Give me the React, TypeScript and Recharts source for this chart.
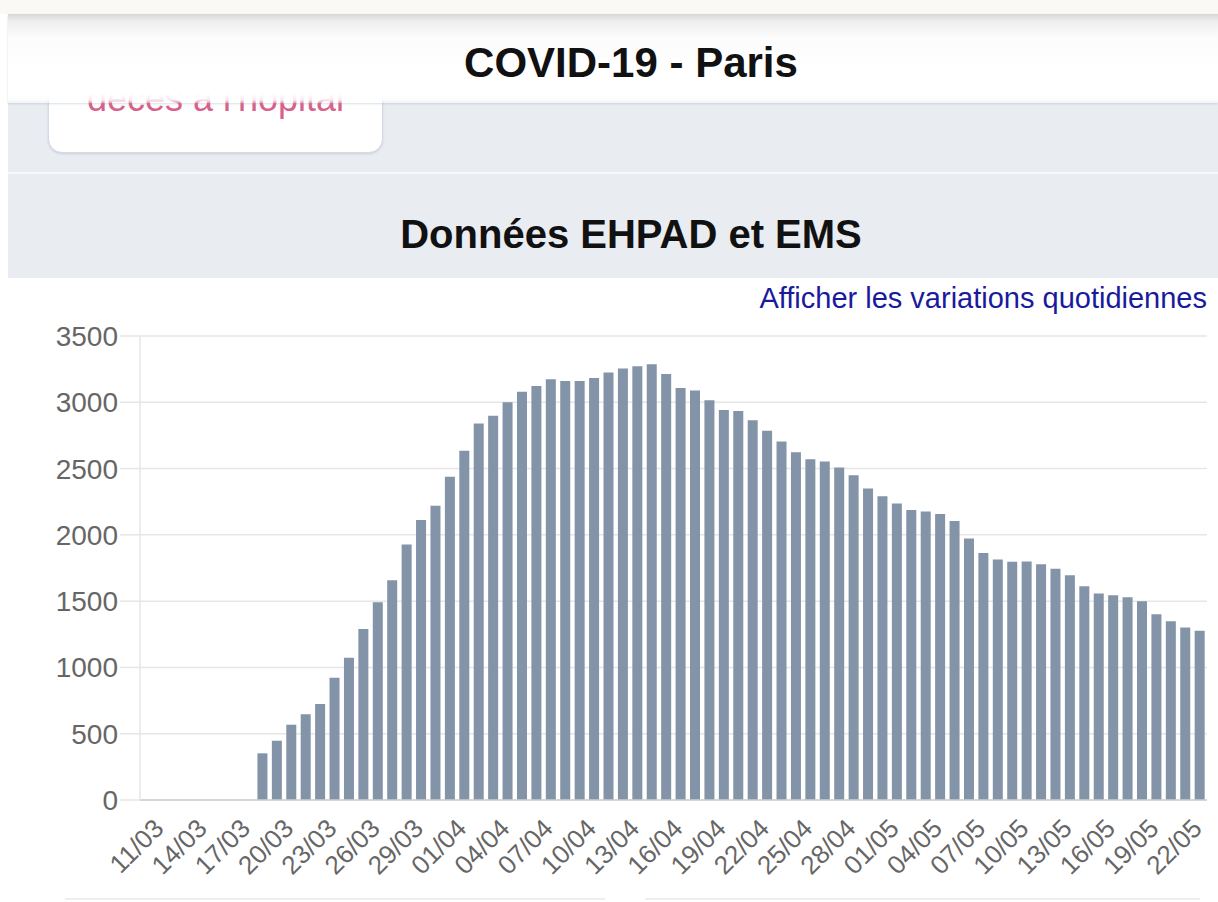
import { BarChart, Bar, XAxis, YAxis, CartesianGrid } from 'recharts'

const DATES = [
  '11/03', '12/03', '13/03', '14/03', '15/03', '16/03', '17/03', '18/03', '19/03', '20/03',
  '21/03', '22/03', '23/03', '24/03', '25/03', '26/03', '27/03', '28/03', '29/03', '30/03',
  '31/03', '01/04', '02/04', '03/04', '04/04', '05/04', '06/04', '07/04', '08/04', '09/04',
  '10/04', '11/04', '12/04', '13/04', '14/04', '15/04', '16/04', '17/04', '18/04', '19/04',
  '20/04', '21/04', '22/04', '23/04', '24/04', '25/04', '26/04', '27/04', '28/04', '29/04',
  '30/04', '01/05', '02/05', '03/05', '04/05', '05/05', '06/05', '07/05', '08/05', '09/05',
  '10/05', '11/05', '12/05', '13/05', '14/05', '15/05', '16/05', '17/05', '18/05', '19/05',
  '20/05', '21/05', '22/05', '23/05',
]

// cumulative EHPAD / EMS deaths
const DECES = [
  0, 0, 0, 0, 0, 0, 0, 0, 352, 447,
  568, 646, 724, 922, 1073, 1290, 1491, 1657, 1928, 2113,
  2219, 2438, 2634, 2840, 2898, 3001, 3079, 3122, 3174, 3160,
  3160, 3183, 3224, 3254, 3271, 3287, 3214, 3108, 3088, 3015,
  2942, 2935, 2864, 2786, 2705, 2623, 2570, 2553, 2508, 2450,
  2350, 2292, 2237, 2188, 2176, 2158, 2105, 1973, 1864, 1814,
  1798, 1799, 1779, 1744, 1696, 1613, 1558, 1545, 1530, 1500,
  1402, 1349, 1302, 1276,
]

const Y_TICKS = [0, 500, 1000, 1500, 2000, 2500, 3000, 3500]

const data = DATES.map((date, i) => ({ date, value: DECES[i] }))

const FONT = '"Liberation Sans", Arial, Helvetica, sans-serif'
const BAR_COLOR = '#8393a8'
const GRID = '#e6e6e6'
const PANEL = '#e9ecf1'

function DateTick(props: any) {
  const { x, y, payload } = props
  return (
    <g transform={`translate(${x + 18},${y + 22})`}>
      <text
        x={0}
        y={0}
        textAnchor="end"
        fill="#666"
        fontSize={26}
        fontFamily={FONT}
        transform="rotate(-45)"
      >
        {payload.value}
      </text>
    </g>
  )
}

export default function App() {
  return (
    <div
      style={{
        position: 'absolute',
        left: 0,
        top: 0,
        width: 1218,
        height: 902,
        overflow: 'hidden',
        background: '#fff',
        fontFamily: FONT,
      }}
    >
      {/* top strip */}
      <div style={{ position: 'absolute', left: 0, top: 0, width: 1218, height: 14, background: '#faf9f6' }} />

      {/* grey panels */}
      <div style={{ position: 'absolute', left: 8, top: 60, width: 1210, height: 112, background: PANEL }} />
      <div style={{ position: 'absolute', left: 8, top: 172, width: 1210, height: 2, background: '#f7f8fa' }} />
      <div style={{ position: 'absolute', left: 8, top: 174, width: 1210, height: 104, background: PANEL }} />

      {/* card partly hidden under the header */}
      <div
        style={{
          position: 'absolute',
          left: 48,
          top: 20,
          width: 333,
          height: 131,
          background: '#fff',
          border: '1px solid #d3dae8',
          borderRadius: 14,
          boxShadow: '0 1px 2px rgba(120,130,160,0.25)',
        }}
      />
      <div
        style={{
          position: 'absolute',
          left: 48,
          top: 81,
          width: 335,
          textAlign: 'center',
          fontSize: 36,
          lineHeight: '36px',
          color: '#d9608a',
        }}
      >
        décès à l'hôpital
      </div>

      {/* header */}
      <div
        style={{
          position: 'absolute',
          left: 8,
          top: 14,
          width: 1210,
          height: 89,
          background:
            'linear-gradient(to bottom, #d8d8d8 0px, #efefef 8px, #fcfcfc 24px, #ffffff 60px, #ffffff 80px, rgba(255,255,255,0.85) 86px, rgba(255,255,255,0.35) 89px)',
          boxShadow: '0 1px 2px rgba(150,160,180,0.35)',
        }}
      />
      <div
        style={{
          position: 'absolute',
          left: 8,
          top: 40,
          width: 1246,
          textAlign: 'center',
          fontSize: 42,
          lineHeight: '46px',
          fontWeight: 'bold',
          color: '#111',
        }}
      >
        COVID-19 - Paris
      </div>

      <div
        style={{
          position: 'absolute',
          left: 8,
          top: 212,
          width: 1246,
          textAlign: 'center',
          fontSize: 40,
          lineHeight: '44px',
          fontWeight: 'bold',
          color: '#111',
        }}
      >
        Données EHPAD et EMS
      </div>

      <div
        style={{
          position: 'absolute',
          right: 11,
          top: 284,
          fontSize: 29,
          lineHeight: '29px',
          color: '#1a1a9c',
        }}
      >
        Afficher les variations quotidiennes
      </div>

      <div style={{ position: 'absolute', left: 0, top: 280 }}>
        <BarChart
          width={1218}
          height={622}
          data={data}
          margin={{ top: 56, right: 11, left: 0, bottom: 2 }}
          barCategoryGap="14.5%"
        >
          <CartesianGrid vertical={false} stroke={GRID} strokeWidth={1.5} />
          <XAxis
            dataKey="date"
            interval={2}
            tickLine={false}
            axisLine={{ stroke: '#cfcfcf', strokeWidth: 1.5 }}
            tick={<DateTick />}
            height={100}
          />
          <YAxis
            width={140}
            domain={[0, 3500]}
            ticks={Y_TICKS}
            interval={0}
            tickSize={20}
            tickMargin={2}
            tickLine={{ stroke: GRID, strokeWidth: 1.5 }}
            axisLine={{ stroke: GRID, strokeWidth: 1.5 }}
            tick={{ fill: '#666', fontSize: 28, fontFamily: FONT }}
          />
          <Bar dataKey="value" fill={BAR_COLOR} isAnimationActive={false} />
        </BarChart>
      </div>

      {/* edges of the cards below */}
      <div style={{ position: 'absolute', left: 65, top: 898, width: 540, height: 2, background: '#eceef3' }} />
      <div style={{ position: 'absolute', left: 645, top: 898, width: 555, height: 2, background: '#eceef3' }} />
    </div>
  )
}
